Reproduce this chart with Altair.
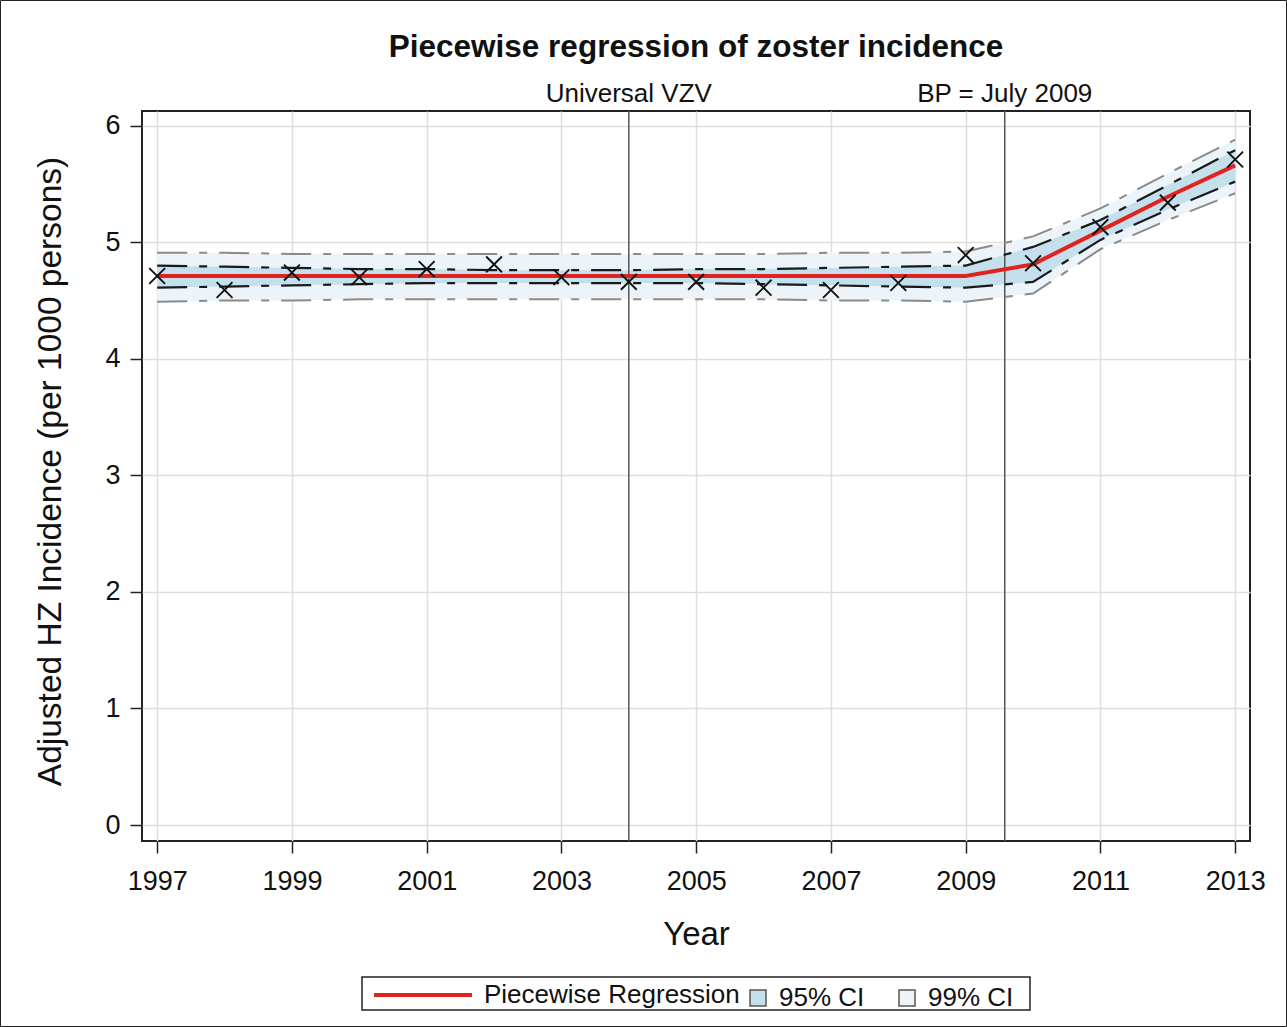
import altair as alt
import pandas as pd

# ---------------- data ----------------
years = [1997, 1998, 1999, 2000, 2001, 2002, 2003, 2004, 2005,
         2006, 2007, 2008, 2009, 2010, 2011, 2012, 2013]
observed = [4.71, 4.59, 4.74, 4.70, 4.77, 4.81, 4.70, 4.66, 4.66,
            4.61, 4.59, 4.65, 4.89, 4.82, 5.13, 5.34, 5.71]
fitted = [4.71, 4.71, 4.71, 4.71, 4.71, 4.71, 4.71, 4.71, 4.71,
          4.71, 4.71, 4.71, 4.71, 4.81, 5.10, 5.39, 5.66]
lo95 = [4.61, 4.62, 4.63, 4.64, 4.65, 4.65, 4.65, 4.65, 4.65,
        4.64, 4.63, 4.62, 4.61, 4.66, 5.02, 5.28, 5.52]
hi95 = [4.80, 4.79, 4.78, 4.77, 4.77, 4.76, 4.76, 4.76, 4.77,
        4.77, 4.78, 4.79, 4.80, 4.96, 5.19, 5.49, 5.79]
lo99 = [4.49, 4.50, 4.50, 4.51, 4.51, 4.51, 4.51, 4.51, 4.51,
        4.51, 4.50, 4.50, 4.49, 4.56, 4.94, 5.19, 5.42]
hi99 = [4.91, 4.91, 4.90, 4.90, 4.90, 4.90, 4.90, 4.90, 4.90,
        4.90, 4.91, 4.91, 4.92, 5.05, 5.29, 5.59, 5.88]

ref_years = [2004, 2009.58]
ref_labels = ["Universal VZV", "BP = July 2009"]

x_ticks = [1997, 1999, 2001, 2003, 2005, 2007, 2009, 2011, 2013]
y_ticks = [0, 1, 2, 3, 4, 5, 6]

title_text = ["Piecewise regression of zoster incidence"]
x_title = "Year"
y_title = "Adjusted HZ Incidence (per 1000 persons)"
series_names = ["Piecewise Regression"]
band_names = ["95% CI", "99% CI"]

# ---------------- tables ----------------
df = pd.DataFrame({"year": years, "obs": observed, "fit": fitted,
                   "series": series_names[0]})
band_rows = []
for i, yr in enumerate(years):
    band_rows.append({"year": yr, "lo": lo95[i], "hi": hi95[i], "band": band_names[0]})
    band_rows.append({"year": yr, "lo": lo99[i], "hi": hi99[i], "band": band_names[1]})
bands = pd.DataFrame(band_rows)

lim_rows = []
for i, yr in enumerate(years):
    lim_rows += [{"year": yr, "v": hi95[i], "kind": "hi95", "lvl": "95"},
                 {"year": yr, "v": lo95[i], "kind": "lo95", "lvl": "95"},
                 {"year": yr, "v": hi99[i], "kind": "hi99", "lvl": "99"},
                 {"year": yr, "v": lo99[i], "kind": "lo99", "lvl": "99"}]
limits = pd.DataFrame(lim_rows)
refs = pd.DataFrame({"year": ref_years, "label": ref_labels})
one = pd.DataFrame({"a": [0]})
titles = pd.DataFrame({"t": title_text})

# ---------------- styling ----------------
FONT = "Liberation Sans"
RED = "#e0231e"
C95 = "#c4e0ed"
C99 = "#ecf4f9"
PW, PH = 1108, 730
PAD_L, PAD_T = 142, 111

xscale = alt.Scale(domain=[1996.775, 2013.22], nice=False, zero=False)
yscale = alt.Scale(domain=[-0.137, 6.126], nice=False, zero=False)

xaxis = alt.Axis(values=x_ticks, format="d", title=x_title,
                 labelFontSize=27, titleFontSize=33, titleFontWeight="normal",
                 tickSize=12, tickWidth=1.5, tickColor="#222", labelPadding=15,
                 domain=False, grid=True, gridColor="#dedede", gridWidth=1.5,
                 labelColor="#111", titleColor="#111",
                 titleBaseline="alphabetic", titleY=103)
yaxis = alt.Axis(values=y_ticks, format="d", title=y_title,
                 labelFontSize=27, titleFontSize=33.5, titleFontWeight="normal",
                 tickSize=12, tickWidth=1.5, tickColor="#222", labelPadding=10,
                 domain=False, grid=True, gridColor="#dedede", gridWidth=1.5,
                 labelColor="#111", titleColor="#111",
                 titleBaseline="alphabetic", titleAngle=270, titleX=-82,
                 titleY=PH / 2 - 5, titleAlign="center")

X = alt.X("year:Q", scale=xscale, axis=xaxis)

fill_legend = alt.Legend(title=None, orient="none", legendX=603, legendY=874,
                         direction="horizontal", symbolType="square",
                         symbolSize=256, symbolStrokeColor="#555",
                         symbolStrokeWidth=1.5, labelOffset=8, columnPadding=29,
                         labelFontSize=26, labelFont=FONT, labelColor="#111",
                         labelLimit=400, padding=0)
stroke_legend = alt.Legend(title=None, orient="none", legendX=230, legendY=833,
                           direction="horizontal", symbolType="stroke",
                           symbolSize=9604, symbolStrokeWidth=4,
                           labelOffset=10, labelFontSize=26, labelFont=FONT,
                           labelColor="#111", labelLimit=400, padding=0)

fill_enc = alt.Fill("band:N", scale=alt.Scale(domain=band_names, range=[C95, C99]),
                    legend=fill_legend)

area99 = alt.Chart(bands).transform_filter(alt.datum.band == band_names[1]).mark_area(
    opacity=1).encode(x=X, y=alt.Y("lo:Q", scale=yscale, axis=yaxis), y2="hi:Q",
                      fill=fill_enc)
area95 = alt.Chart(bands).transform_filter(alt.datum.band == band_names[0]).mark_area(
    opacity=1).encode(x=X, y=alt.Y("lo:Q", scale=yscale, axis=yaxis), y2="hi:Q",
                      fill=fill_enc)

ref_rules = alt.Chart(refs).mark_rule(color="#555", strokeWidth=1.5).encode(x=X)

lines99 = alt.Chart(limits).transform_filter(alt.datum.lvl == "99").mark_line(
    color="#8a8a8a", strokeWidth=2, strokeDash=[30, 12, 8, 12]).encode(
    x=X, y=alt.Y("v:Q", scale=yscale), detail="kind:N")
lines95 = alt.Chart(limits).transform_filter(alt.datum.lvl == "95").mark_line(
    color="#1a1a1a", strokeWidth=2.2, strokeDash=[30, 12, 8, 12]).encode(
    x=X, y=alt.Y("v:Q", scale=yscale), detail="kind:N")

fit_line = alt.Chart(df).mark_line(strokeWidth=4).encode(
    x=X, y=alt.Y("fit:Q", scale=yscale),
    stroke=alt.Stroke("series:N", scale=alt.Scale(domain=series_names, range=[RED]),
                      legend=stroke_legend))

points = alt.Chart(df).mark_point(shape="M-1,-1L1,1M-1,1L1,-1", filled=False,
                                  size=250, strokeWidth=1.9, color="#111",
                                  opacity=1).encode(
    x=X, y=alt.Y("obs:Q", scale=yscale))

ref_text = alt.Chart(refs).mark_text(fontSize=26, font=FONT, color="#111",
                                     baseline="middle", align="center").encode(
    x=X, y=alt.value(-17), text="label:N")

title_mark = alt.Chart(titles).mark_text(fontSize=31.5, font=FONT, fontWeight="bold",
                                         color="#111", baseline="alphabetic",
                                         align="center").encode(
    x=alt.value(PW / 2), y=alt.value(57 - PAD_T), text="t:N")

legend_box = alt.Chart(one).mark_rect(fill=None, stroke="#222", strokeWidth=1.5).encode(
    x=alt.value(362 - PAD_L), x2=alt.value(1030 - PAD_L),
    y=alt.value(977 - PAD_T), y2=alt.value(1010 - PAD_T))
outer_box = alt.Chart(one).mark_rect(fill=None, stroke="#222", strokeWidth=1).encode(
    x=alt.value(0.5 - PAD_L), x2=alt.value(1286.5 - PAD_L),
    y=alt.value(0.5 - PAD_T), y2=alt.value(1026.5 - PAD_T))

chart = alt.layer(area99, area95, ref_rules, lines99, lines95, fit_line, points,
                  ref_text, title_mark, legend_box, outer_box).properties(
    width=PW, height=PH,
    autosize=alt.AutoSizeParams(type="none"),
    padding={"left": PAD_L, "top": PAD_T, "right": 1287 - PAD_L - PW,
             "bottom": 1027 - PAD_T - PH},
    background="white",
).configure(font=FONT).configure_view(stroke="#222", strokeWidth=2)

chart.save("out.html", embed_options={"renderer": "svg", "actions": False})
